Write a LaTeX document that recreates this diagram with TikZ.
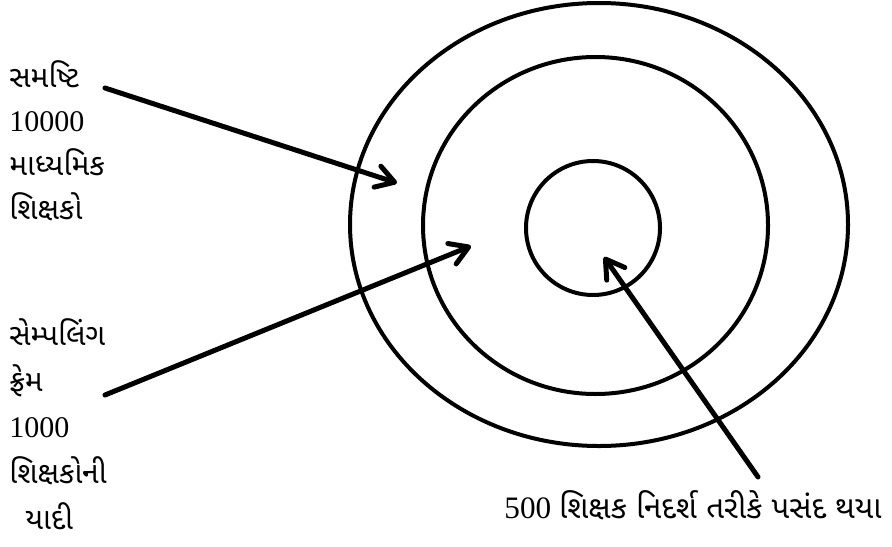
\documentclass[tikz,border=0pt]{standalone}
\usepackage{fontspec}
\setmainfont{Liberation Serif}
\newfontfamily\guj[Script=Gujarati]{Noto Sans Gujarati UI}
\usetikzlibrary{arrows.meta,shapes.geometric}
\tikzset{
  ring/.style={draw, ellipse, line width=2pt, inner sep=0pt},
  lbl/.style={font=\fontsize{15}{22}\selectfont, align=left, inner sep=0pt},
  pointer/.style={line width=2.5pt, line cap=round, -{Straight Barb[length=9pt,width=11pt,round]}},
}
\begin{document}
\begin{tikzpicture}[x=0.5pt, y=-0.5pt]
\useasboundingbox (0,0) rectangle (892,546);
% the three rings
\node[ring, minimum width=249pt, minimum height=221.5pt] (outer) at (599,224.5) {};
\node[ring, minimum width=172.5pt, minimum height=168.5pt] (middle) at (595.5,225.5) {};
\node[ring, minimum width=67pt, minimum height=67pt] (inner) at (593,228) {};
% labels
\node[lbl, anchor=north west] (pop) at (9,60) {{\guj સમષ્ટિ}\\10000\\{\guj માધ્યમિક}\\{\guj શિક્ષકો}};
\node[lbl, anchor=north west, font=\fontsize{15}{23}\selectfont] (frame) at (9,318) {{\guj સેમ્પલિંગ}\\{\guj ફ્રેમ}\\1000\\{\guj શિક્ષકોની}\\\hspace*{8pt}{\guj યાદી}};
\node[lbl, anchor=base west, font=\fontsize{15.6}{20}\selectfont] (sample) at (504,518) {500 {\guj શિક્ષક નિદર્શ તરીકે પસંદ થયા}};
% arrows
\coordinate (popfrom) at (105,88);
\coordinate (popto) at (397,183);
\coordinate (framefrom) at (105,395);
\coordinate (frameto) at (471,246);
\coordinate (samplefrom) at (758,477);
\coordinate (sampleto) at (604,257);
\draw[pointer] (popfrom) -- (popto);
\draw[pointer] (framefrom) -- (frameto);
\draw[pointer] (samplefrom) -- (sampleto);
\end{tikzpicture}
\end{document}
